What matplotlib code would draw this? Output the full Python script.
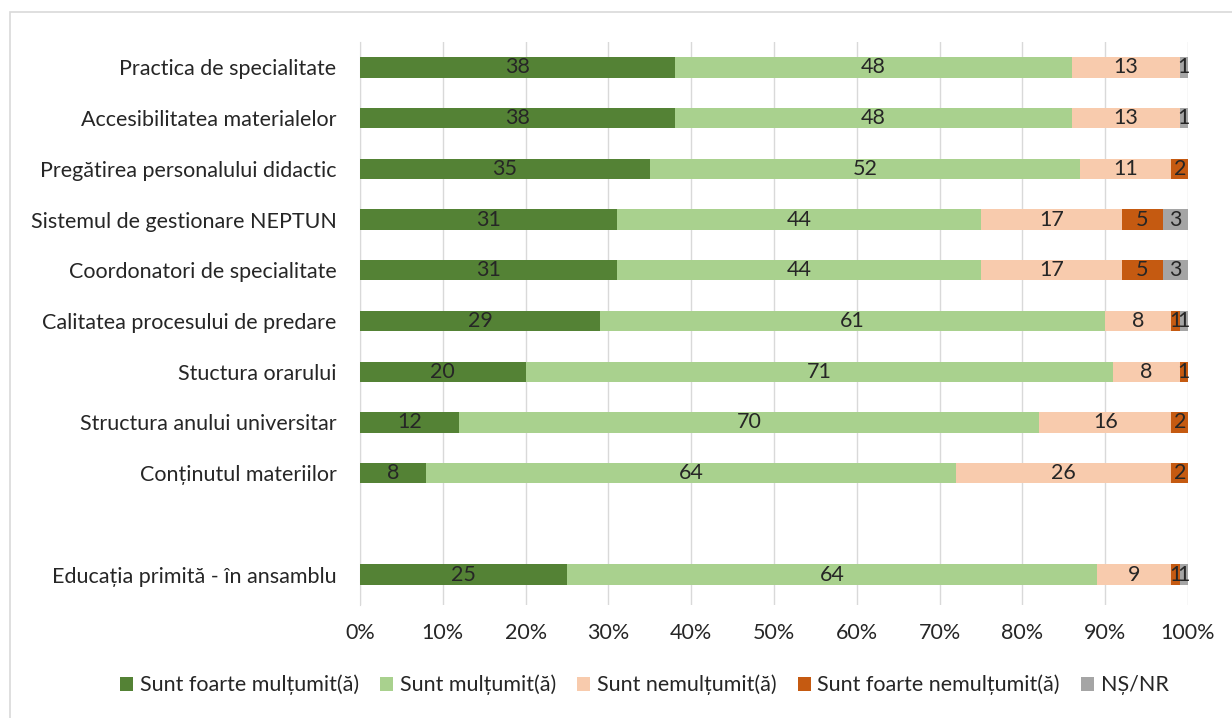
import matplotlib.pyplot as plt
from matplotlib.patches import Rectangle
import numpy as np

plt.rcParams['font.family'] = ['Lato', 'DejaVu Sans']

categories = [
    "Practica de specialitate",
    "Accesibilitatea materialelor",
    "Pregătirea personalului didactic",
    "Sistemul de gestionare NEPTUN",
    "Coordonatori de specialitate",
    "Calitatea procesului de predare",
    "Stuctura orarului",
    "Structura anului universitar",
    "Conținutul materiilor",
    "Educația primită - în ansamblu",
]
positions = [0, 1, 2, 3, 4, 5, 6, 7, 8, 10]  # gap before the overall row

foarte_multumit = [38, 38, 35, 31, 31, 29, 20, 12, 8, 25]
multumit = [48, 48, 52, 44, 44, 61, 71, 70, 64, 64]
nemultumit = [13, 13, 11, 17, 17, 8, 8, 16, 26, 9]
foarte_nemultumit = [0, 0, 2, 5, 5, 1, 1, 2, 2, 1]
ns_nr = [1, 1, 0, 3, 3, 1, 0, 0, 0, 1]

series = [
    ("Sunt foarte mulțumit(ă)", foarte_multumit, "#548235"),
    ("Sunt mulțumit(ă)", multumit, "#A9D18E"),
    ("Sunt nemulțumit(ă)", nemultumit, "#F8CBAD"),
    ("Sunt foarte nemulțumit(ă)", foarte_nemultumit, "#C55A11"),
    ("NȘ/NR", ns_nr, "#A5A5A5"),
]

FS = 15.5

fig = plt.figure(figsize=(12.32, 7.18), dpi=100)
ax = fig.add_axes([0.2922, 0.1574, 0.6721, 0.7841])

# light frame around the chart area (Excel style)
fig.patches.append(Rectangle((10 / 1232, -0.1), 1.2, 0.1 + (1 - 12 / 718),
                             transform=fig.transFigure, fill=False,
                             edgecolor="#D9D9D9", linewidth=1.2, zorder=0))

left = np.zeros(len(categories))
for name, vals, color in series:
    vals = np.array(vals, dtype=float)
    ax.barh(positions, vals, left=left, height=0.4, color=color,
            label=name, zorder=3)
    for y, l, v in zip(positions, left, vals):
        if v > 0:
            ax.text(l + v / 2, y, f"{int(v)}", ha="center", va="center",
                    fontsize=FS, color="#262626", zorder=4)
    left += vals

ax.set_xlim(0, 100)
ax.set_ylim(10.6, -0.5)
ax.set_yticks(positions)
ax.set_yticklabels(categories, fontsize=FS, color="#262626")
ax.set_xticks(np.arange(0, 101, 10))
ax.set_xticklabels([f"{t}%" for t in range(0, 101, 10)], fontsize=FS,
                   color="#262626")
ax.tick_params(axis="both", length=0)
ax.tick_params(axis="y", pad=17)
ax.tick_params(axis="x", pad=13)
ax.xaxis.grid(True, color="#D9D9D9", linewidth=1, zorder=0)
ax.set_axisbelow(True)
for s in ["top", "right", "bottom"]:
    ax.spines[s].set_visible(False)
ax.spines["left"].set_color("#D9D9D9")

handles, labels = ax.get_legend_handles_labels()
fig.legend(handles, labels, loc="center", bbox_to_anchor=(0.523, 0.046),
           ncol=5, frameon=False, fontsize=FS, handlelength=0.6,
           handleheight=0.6, handletextpad=0.3, columnspacing=1.0,
           labelcolor="#262626")

fig.savefig("out.png", dpi=100)
